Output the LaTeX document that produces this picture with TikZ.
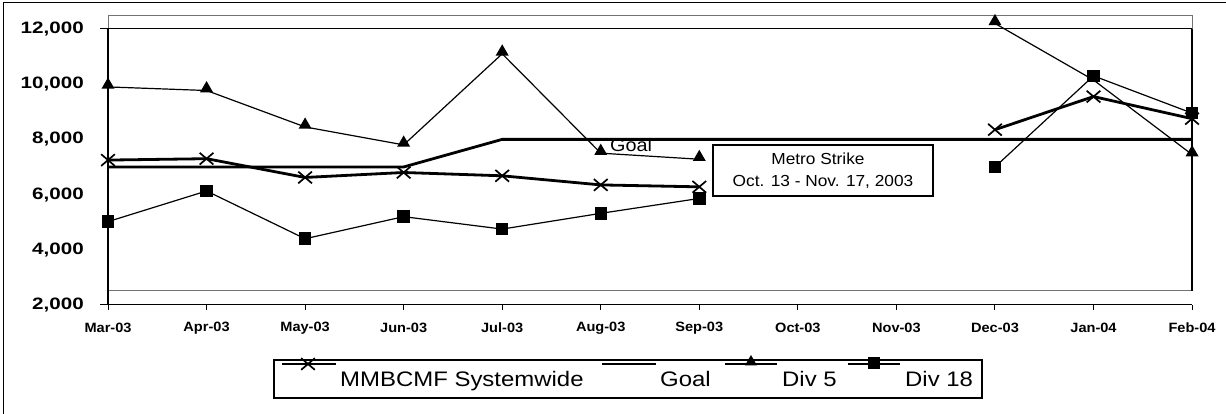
\documentclass[tikz,border=0pt]{standalone}
\usepackage{fontspec}
\usepackage{graphicx}
\setmainfont{Liberation Sans}
\usetikzlibrary{shapes.geometric,shapes.misc}
\newcommand\wid[2]{\scalebox{#1}[1]{#2}}
\begin{document}
\begin{tikzpicture}[x=1pt,y=1pt,
  tri/.style={regular polygon,regular polygon sides=3,fill=black,inner sep=0pt,minimum size=15pt},
  sq/.style={rectangle,fill=black,inner sep=0pt,minimum size=12.5pt},
  xm/.style={cross out,draw=black,line width=1.7pt,inner sep=0pt,minimum width=12pt,minimum height=10pt},
  thinline/.style={line width=1.2pt},
  thickline/.style={line width=2.8pt},
  ylab/.style={anchor=east,font=\bfseries\fontsize{16.5}{18}\selectfont,inner sep=0pt},
  mlab/.style={font=\bfseries\fontsize{13.5}{15}\selectfont,inner sep=0pt},
  leg/.style={anchor=base west,font=\fontsize{21}{24}\selectfont,inner sep=0pt},
  box/.style={draw=black,line width=1.2pt,fill=white}]
\useasboundingbox (0,0) rectangle (1226,414);
% outer frame
\draw[line width=1pt] (3,0) -- (3,411) -- (1226,411);
% plot area
\draw[black!55,line width=1pt] (108,398) rectangle (1192,123);
\draw[line width=1pt] (100,385) -- (1192,385);
\draw[line width=1.8pt] (1192,385) -- (1192,123);
\draw[line width=1.3pt] (108,385) -- (108,109);
\draw[line width=1pt] (100,109) -- (1192,109);
\foreach \i in {0,...,11} \draw[line width=1pt] (108+98.55*\i,109) -- ++(0,-5);
% y labels
\foreach \v/\t in {12000/{12,000},10000/{10,000},8000/{8,000},6000/{6,000},4000/{4,000},2000/{2,000}}
  \node[ylab] (y\v) at (84,53.8+0.0276*\v) {\wid{1.25}{\t}};
% month labels
\foreach \i/\m in {0/Mar-03,1/Apr-03,2/May-03,3/Jun-03,4/Jul-03,5/Aug-03,6/Sep-03,7/Oct-03,8/Nov-03,9/Dec-03,10/Jan-04,11/Feb-04}
  \node[mlab] (m\i) at (108+98.55*\i,86) {\wid{1.08}{\m}};
% Goal label (under the goal line)
\node[anchor=base west,inner sep=0pt,font=\fontsize{18}{20}\selectfont] (goallab) at (610,262) {\wid{1.1}{Goal}};
% data
\begin{scope}[shift={(108pt,53.8pt)},x=98.55pt,y=0.0276pt]
  % goal
  \coordinate (g0) at (0,7000); \coordinate (g3) at (3,7000);
  \coordinate (g4) at (4,8000); \coordinate (g11) at (11,8000);
  \draw[thickline] (g0) -- (g3) -- (g4) -- (g11);
  % coordinates
  \foreach \i/\v in {0/7250,1/7300,2/6620,3/6800,4/6680,5/6350,6/6280,9/8350,10/9550,11/8750}
    \coordinate (s\i) at (\i,\v);
  \foreach \i/\v in {0/9900,1/9770,2/8450,3/7800,4/11100,5/7500,6/7280,9/12200,10/10150,11/7450}
    \coordinate (a\i) at (\i,\v);
  \foreach \i/\v in {0/5020,1/6130,2/4400,3/5200,4/4750,5/5320,6/5860,9/7000,10/10300,11/8950}
    \coordinate (b\i) at (\i,\v);
  % lines
  \draw[thinline] (a0) -- (a1) -- (a2) -- (a3) -- (a4) -- (a5) -- (a6);
  \draw[thinline] (a9) -- (a10) -- (a11);
  \draw[thinline] (b0) -- (b1) -- (b2) -- (b3) -- (b4) -- (b5) -- (b6);
  \draw[thinline] (b9) -- (b10) -- (b11);
  \draw[thickline] (s0) -- (s1) -- (s2) -- (s3) -- (s4) -- (s5) -- (s6);
  \draw[thickline] (s9) -- (s10) -- (s11);
  % markers
  \foreach \i in {0,1,2,3,4,5,6,9,10,11} {
    \node[tri,yshift=2pt] (A\i) at (a\i) {};
    \node[sq] (B\i) at (b\i) {};
    \node[xm] (S\i) at (s\i) {};
  }
\end{scope}
% strike box
\node[box,minimum width=220pt,minimum height=51pt,inner sep=0pt] (strike) at (823,243.5) {};
\node[anchor=base,inner sep=0pt,font=\fontsize{16}{18}\selectfont] (st1) at (818,249) {\wid{1.08}{Metro Strike}};
\node[anchor=base,inner sep=0pt,font=\fontsize{16}{18}\selectfont] (st2) at (823,227) {\wid{1.08}{Oct. 13 - Nov. 17, 2003}};
% legend
\node[box,minimum width=708pt,minimum height=38pt,inner sep=0pt] (legend) at (628,35) {};
\coordinate (l1a) at (282,50); \coordinate (l1b) at (336,50);
\coordinate (l2a) at (602,50); \coordinate (l2b) at (656,50);
\coordinate (l3a) at (725,50); \coordinate (l3b) at (777,50);
\coordinate (l4a) at (848,50); \coordinate (l4b) at (900,50);
\draw[thickline] (l1a) -- (l1b);
\draw[thickline] (l2a) -- (l2b);
\draw[thinline] (l3a) -- (l3b);
\draw[thinline] (l4a) -- (l4b);
\node[xm] (lx) at (308,50) {};
\node[tri,minimum size=14pt,yshift=2pt] (lt) at (751,50) {};
\node[sq,minimum size=12pt] (ls) at (874,51) {};
\node[leg] (t1) at (340,27) {\wid{1.14}{MMBCMF Systemwide}};
\node[leg] (t2) at (660,27) {\wid{1.14}{Goal}};
\node[leg] (t3) at (782,27) {\wid{1.14}{Div 5}};
\node[leg] (t4) at (905,27) {\wid{1.14}{Div 18}};
\end{tikzpicture}
\end{document}
